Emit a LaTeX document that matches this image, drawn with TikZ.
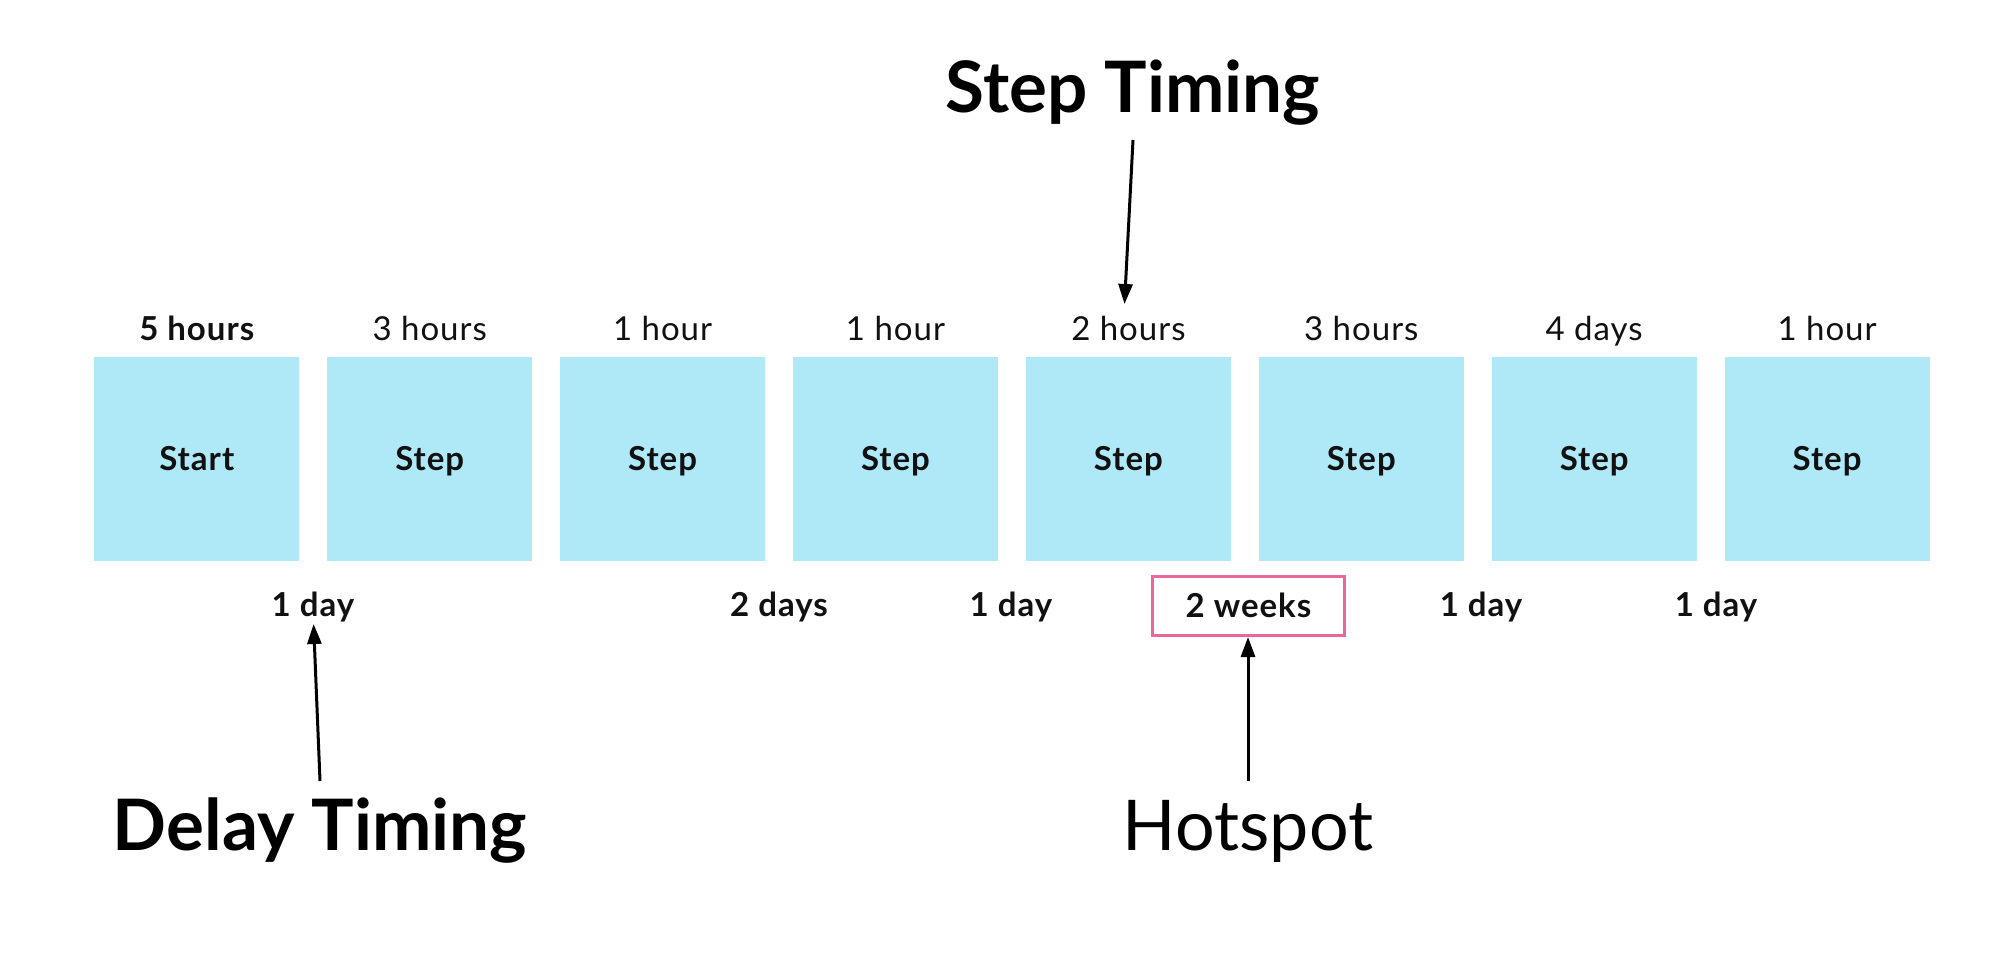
\documentclass[tikz,border=0pt]{standalone}
\usepackage{fontspec}
\setmainfont{Lato}
\newfontfamily\smallfam[LetterSpace=3]{Lato}
\usetikzlibrary{arrows.meta}
\definecolor{boxblue}{RGB}{175,233,248}
\definecolor{hotpink}{RGB}{232,104,156}
\definecolor{ink}{RGB}{17,17,17}
\tikzset{
  stepbox/.style={fill=boxblue, minimum width=205pt, minimum height=204pt, inner sep=0pt, text height=23pt, text depth=0pt, text=ink, font=\smallfam\fontsize{33}{38}\selectfont\bfseries},
  toplbl/.style={text=ink, inner sep=0pt, anchor=base, font=\smallfam\fontsize{33}{38}\selectfont},
  toplblb/.style={text=ink, inner sep=0pt, anchor=base, font=\smallfam\fontsize{33}{38}\selectfont\bfseries},
  dlylbl/.style={text=ink, inner sep=0pt, anchor=base, font=\smallfam\fontsize{33}{38}\selectfont\bfseries},
  biglbl/.style={text=black, inner sep=0pt, font=\fontsize{71}{80}\selectfont\bfseries},
  hotlbl/.style={text=black, inner sep=0pt, font=\fontsize{70}{80}\selectfont},
  pointer/.style={draw=black, line width=3pt, -{Triangle[length=20pt,width=14pt]}},
  hotbox/.style={draw=hotpink, line width=3pt, minimum width=192pt, minimum height=59pt, inner sep=0pt, text height=23pt, text depth=0pt, text=ink, font=\smallfam\fontsize{33}{38}\selectfont\bfseries}
}
\begin{document}
\begin{tikzpicture}[x=1pt,y=-1pt]
\useasboundingbox[fill=white] (0,0) rectangle (1999,974);
% boxes
\node[stepbox] (b1) at (196.8,459) {Start};
\node[stepbox] (b2) at (429.7,459) {Step};
\node[stepbox] (b3) at (662.6,459) {Step};
\node[stepbox] (b4) at (895.5,459) {Step};
\node[stepbox] (b5) at (1128.4,459) {Step};
\node[stepbox] (b6) at (1361.3,459) {Step};
\node[stepbox] (b7) at (1594.2,459) {Step};
\node[stepbox] (b8) at (1827.1,459) {Step};
% step timings
\node[toplblb] (t1) at (196.8,340) {5 hours};
\node[toplbl] (t2) at (429.7,340) {3 hours};
\node[toplbl] (t3) at (662.6,340) {1 hour};
\node[toplbl] (t4) at (895.5,340) {1 hour};
\node[toplbl] (t5) at (1128.4,340) {2 hours};
\node[toplbl] (t6) at (1361.3,340) {3 hours};
\node[toplbl] (t7) at (1594.2,340) {4 days};
\node[toplbl] (t8) at (1827.1,340) {1 hour};
% delays
\node[dlylbl] (d1) at (313,616) {1 day};
\node[dlylbl] (d3) at (779,616) {2 days};
\node[dlylbl] (d4) at (1011,616) {1 day};
\node[hotbox] (d5) at (1248.5,605.5) {2 weeks};
\node[dlylbl] (d6) at (1481,616) {1 day};
\node[dlylbl] (d7) at (1716,616) {1 day};
% callouts
\node[biglbl] (st) at (1133,93) {Step Timing};
\node[biglbl] (dt) at (320,831) {Delay Timing};
\node[hotlbl] (hs) at (1248,831) {Hotspot};
\coordinate (stA) at (1133,140);
\coordinate (stB) at (1124.5,304);
\coordinate (dtA) at (320,781);
\coordinate (dtB) at (313.6,624);
\coordinate (hsA) at (1248,781);
\coordinate (hsB) at (1248,637);
\draw[pointer] (stA) -- (stB);
\draw[pointer] (dtA) -- (dtB);
\draw[pointer] (hsA) -- (hsB);
\end{tikzpicture}
\end{document}
